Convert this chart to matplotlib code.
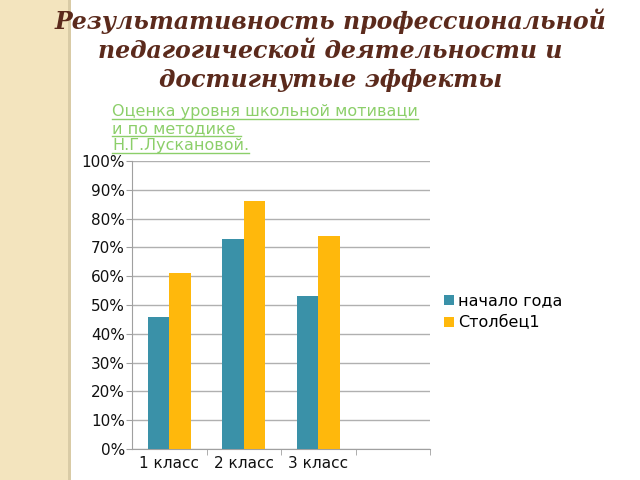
import matplotlib.pyplot as plt
import numpy as np
from matplotlib.patches import Rectangle
from matplotlib.lines import Line2D

categories = ['1 класс', '2 класс', '3 класс', '']
start_year = [0.46, 0.73, 0.53, np.nan]
column1 = [0.61, 0.86, 0.74, np.nan]
series_names = ['начало года', 'Столбец1']
yticks = np.arange(0, 1.01, 0.1)

title = 'Результативность профессиональной\nпедагогической деятельности и\nдостигнутые эффекты'
subtitle = ['Оценка уровня школьной мотиваци', 'и по методике ', 'Н.Г.Лускановой.']

teal = '#3a91a8'
yellow = '#ffb80c'
green = '#8ccf6a'

fig = plt.figure(figsize=(6.4, 4.8), dpi=100)

# beige strip on the left
fig.patches.append(Rectangle((0, 0), 68 / 640, 1, transform=fig.transFigure,
                             facecolor='#f3e4be', edgecolor='none', zorder=0))
fig.patches.append(Rectangle((68 / 640, 0), 3 / 640, 1, transform=fig.transFigure,
                             facecolor='#d9cba6', edgecolor='none', zorder=0))

fig.text(0.516, 0.982, title, ha='center', va='top', fontsize=17,
         family='DejaVu Serif', weight='bold', style='italic',
         color='#5b2a1c', linespacing=1.25)

ax = fig.add_axes([132 / 640, 31 / 480, 298 / 640, 288 / 480])
x = np.arange(len(categories))
w = 0.29
ax.bar(x - w / 2, start_year, w, color=teal, label=series_names[0], zorder=3)
ax.bar(x + w / 2, column1, w, color=yellow, label=series_names[1], zorder=3)

ax.set_xlim(-0.5, len(categories) - 0.5)
ax.set_ylim(0, 1)
ax.set_yticks(yticks)
ax.set_yticklabels([f'{int(round(v * 100))}%' for v in yticks])
ax.set_xticks(x)
ax.set_xticklabels(categories)
ax.set_xticks(np.arange(len(categories)) + 0.5, minor=True)
ax.tick_params(axis='x', which='major', length=0, pad=5)
ax.tick_params(axis='x', which='minor', length=4, color='#a0a0a0')
ax.tick_params(axis='y', length=4, color='#a0a0a0', pad=1)
ax.tick_params(labelsize=11, labelcolor='#111111')
ax.yaxis.grid(True, color='#b0b0b0', linewidth=1)
for s in ['top', 'right']:
    ax.spines[s].set_visible(False)
for s in ['left', 'bottom']:
    ax.spines[s].set_color('#a0a0a0')

ax.legend(loc='center left', bbox_to_anchor=(1.0, 0.476), frameon=False,
          fontsize=11.5, handlelength=0.6, handleheight=0.6, handletextpad=0.25,
          labelspacing=0.45)

# underlined green subtitle
fig.canvas.draw()
renderer = fig.canvas.get_renderer()
ys = [364 / 480, 347 / 480, 330 / 480]
for line, y in zip(subtitle, ys):
    t = fig.text(112 / 640, y, line, ha='left', va='baseline', fontsize=11.5, color=green)
    bb = t.get_window_extent(renderer).transformed(fig.transFigure.inverted())
    fig.add_artist(Line2D([bb.x0, bb.x1], [y - 2.5 / 480, y - 2.5 / 480],
                          transform=fig.transFigure, color=green, linewidth=1))

fig.savefig('out.png', dpi=100)
